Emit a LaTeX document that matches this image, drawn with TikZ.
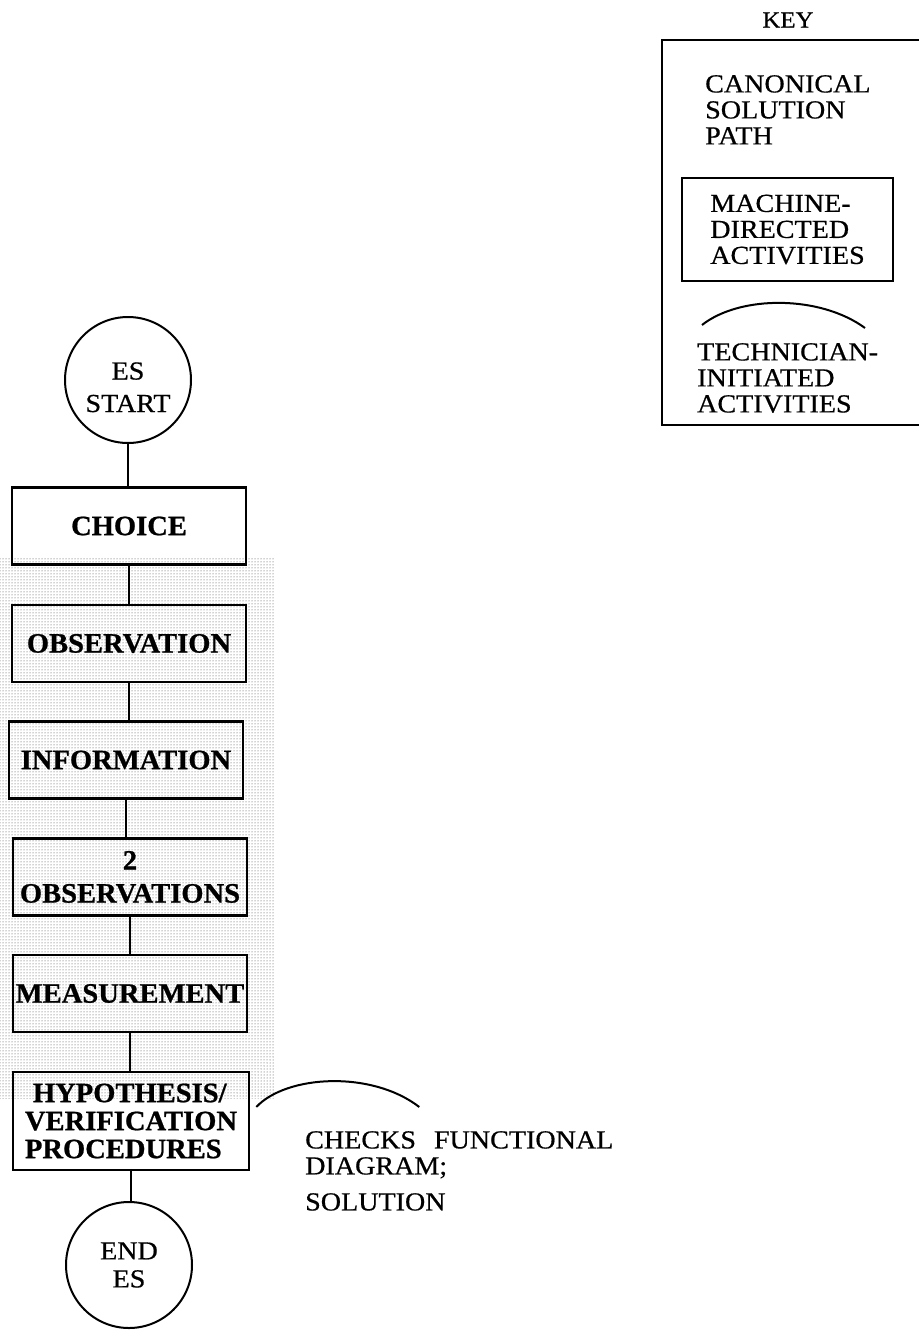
\documentclass[tikz,border=0pt]{standalone}
\usepackage{fontspec}
\setmainfont{Liberation Serif}[FakeStretch=1.08, FakeBold=0.6]
\newfontfamily\boxfont{Liberation Serif}[FakeStretch=1.02, FakeBold=0.8]
\usetikzlibrary{patterns,calc}

\begin{document}
\begin{tikzpicture}[x=1pt,y=-1pt,
  stage/.style={draw, line width=2.6pt, rectangle, minimum width=234pt,
    minimum height=77pt, inner sep=0pt, align=center,
    font=\boxfont\bfseries\fontsize{28}{28}\selectfont},
  terminal/.style={draw, circle, line width=2pt, minimum size=126pt,
    inner sep=0pt, align=center, font=\fontsize{26}{28}\selectfont},
  link/.style={line width=2.6pt},
  keytext/.style={font=\fontsize{26}{26}\selectfont, align=left, inner sep=0pt},
  arcmark/.style={line width=2pt}]

\useasboundingbox (0,0) rectangle (918,1330);

% halftone screen behind the middle of the path
\fill[pattern=dots, pattern color=black!75] (0,558) rectangle (274,1098);

% canonical solution path
\node[terminal] (start) at (128,380)
  {\raisebox{-32pt}[0pt][0pt]{\shortstack{ES\\[12pt]START}}};
\node[stage] (choice) at (129,526) {CHOICE};
\node[stage] (obs) at (129,643.5) {OBSERVATION};
\node[stage] (info) at (126,760) {INFORMATION};
\node[stage] (obs2) at (130,877) {2\\[5pt]OBSERVATIONS};
\node[stage] (meas) at (130,993.5) {MEASUREMENT};
\node[stage, minimum width=236pt, minimum height=98pt, align=left] (hyp) at (131,1121)
  {\hspace{8pt}HYPOTHESIS/\\VERIFICATION\\PROCEDURES};
\node[terminal] (end) at (129,1265) {END\\ES};

\draw[link] (start.south) -- (start.south |- choice.north);
\draw[link] (choice.south) -- (choice.south |- obs.north);
\draw[link] (obs.south) -- (obs.south |- info.north);
\draw[link] (info.south) -- (info.south |- obs2.north);
\draw[link] (obs2.south) -- (obs2.south |- meas.north);
\draw[link] (meas.south) -- (meas.south |- hyp.north);
\draw[link] (hyp.south) -- (hyp.south |- end.north);

% technician-initiated activity beside the last stage
\coordinate (hooka) at ([shift={(6,-14)}]hyp.east);
\coordinate (hookb) at ([shift={(169,-14)}]hyp.east);
\draw[arcmark] (hooka) .. controls ($(hooka)+(30,-32)$) and ($(hookb)+(-48,-37)$) .. (hookb);
\node[keytext, anchor=north west] (checks) at (305,1131)
  {CHECKS\hspace{18pt}FUNCTIONAL\\DIAGRAM;\\[10pt]SOLUTION};

% key
\node[font=\fontsize{23}{24}\selectfont] (keylabel) at (788,20) {KEY};
\draw[line width=1.8pt] (925,40) -- (662,40) -- (662,425) -- (925,425);
\node[keytext, anchor=north west] (canon) at (705,75) {CANONICAL\\SOLUTION\\PATH};
\node[keytext, draw, line width=2pt, minimum width=211pt, minimum height=103pt]
  (machine) at (787.5,229.5) {MACHINE-\\DIRECTED\\ACTIVITIES};
\draw[arcmark] (702,325) .. controls (740,295) and (820,295) .. (865,328);
\node[keytext, anchor=north west] (tech) at (697,343) {TECHNICIAN-\\INITIATED\\ACTIVITIES};
\end{tikzpicture}
\end{document}
